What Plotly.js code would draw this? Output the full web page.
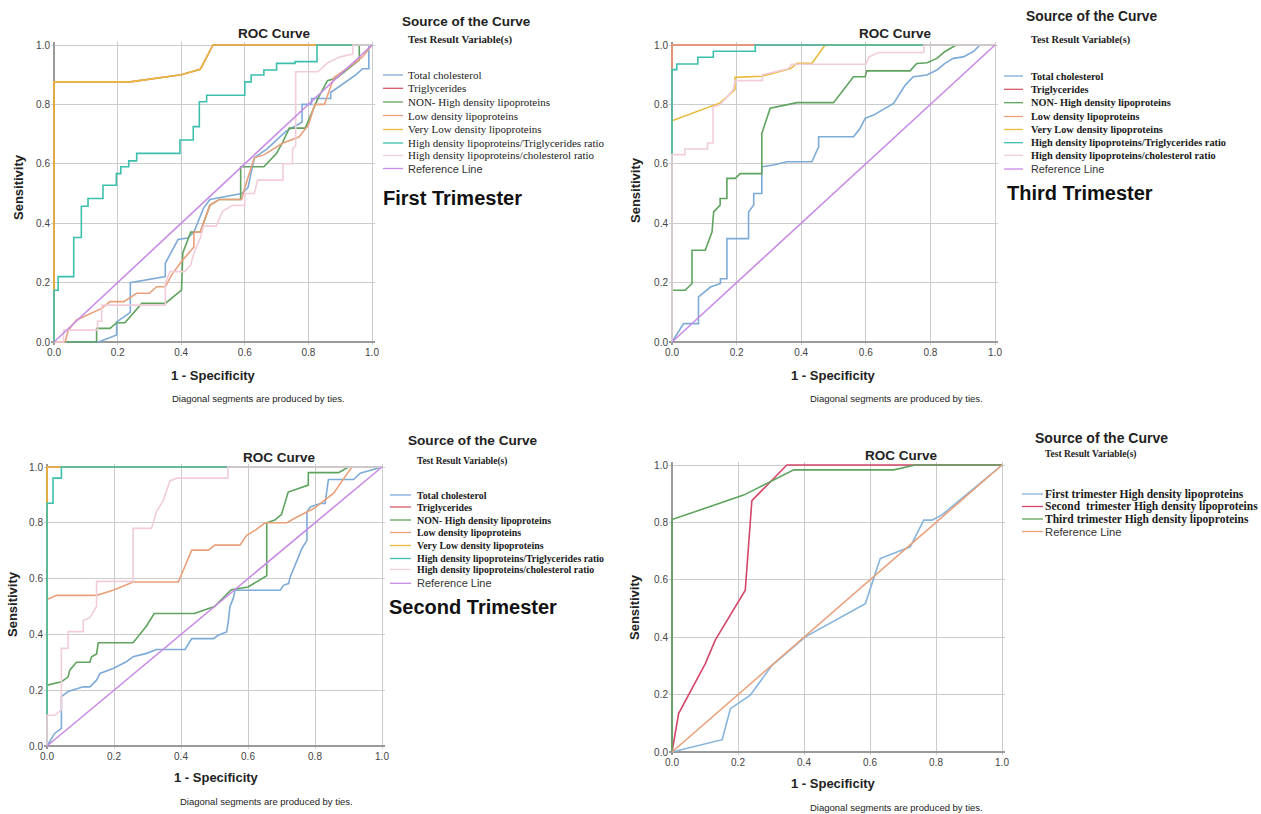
<!DOCTYPE html>
<html><head><meta charset="utf-8">
<script src="https://cdn.plot.ly/plotly-3.0.1.min.js"></script>
<style>html,body{margin:0;padding:0;background:#fff}#chart{width:1261px;height:814px}</style>
</head><body><div id="chart"></div>
<script>
// ---------- labels ----------
const namesMain = ["Total cholesterol","Triglycerides","NON- High density lipoproteins","Low density lipoproteins","Very Low density lipoproteins","High density lipoproteins/Triglycerides ratio","High density lipoproteins/cholesterol ratio","Reference Line"];
const namesHDL = ["First trimester High density lipoproteins","Second\u00a0 trimester High density lipoproteins","Third trimester High density lipoproteins","Reference Line"];
const tickVals = [0,0.2,0.4,0.6,0.8,1.0];
const tickText = ["0.0","0.2","0.4","0.6","0.8","1.0"];
const panelLabels = ["First Trimester","Third Trimester","Second Trimester"];

// ---------- First trimester (1 - specificity, sensitivity) ----------
const t1_totalChol = [[0,0],[0.14,0],[0.197,0.024],[0.197,0.068],[0.24,0.1],[0.24,0.2],[0.35,0.22],[0.35,0.265],[0.39,0.345],[0.42,0.35],[0.44,0.37],[0.47,0.45],[0.49,0.48],[0.59,0.5],[0.61,0.52],[0.63,0.62],[0.67,0.65],[0.73,0.71],[0.78,0.74],[0.78,0.8],[0.81,0.8],[0.81,0.82],[0.87,0.82],[0.87,0.84],[0.95,0.9],[0.97,0.92],[0.99,0.92],[0.99,1],[1,1]];
const t1_trig = [[0,0],[0,0.876],[0.24,0.876],[0.4,0.9],[0.46,0.918],[0.5,1],[1,1]];
const t1_nonHDL = [[0,0],[0.134,0],[0.134,0.046],[0.176,0.046],[0.197,0.065],[0.223,0.065],[0.276,0.13],[0.35,0.13],[0.401,0.175],[0.405,0.3],[0.43,0.37],[0.46,0.37],[0.49,0.46],[0.52,0.48],[0.587,0.48],[0.587,0.59],[0.66,0.59],[0.7,0.635],[0.72,0.675],[0.74,0.72],[0.79,0.72],[0.83,0.82],[0.86,0.88],[0.89,0.89],[0.96,0.95],[0.96,1],[1,1]];
const t1_LDL = [[0,0],[0.035,0],[0.045,0.04],[0.071,0.074],[0.15,0.113],[0.176,0.136],[0.22,0.136],[0.26,0.164],[0.3,0.164],[0.323,0.186],[0.35,0.186],[0.37,0.226],[0.4,0.27],[0.44,0.32],[0.44,0.37],[0.46,0.37],[0.49,0.46],[0.52,0.48],[0.59,0.48],[0.6,0.52],[0.63,0.62],[0.66,0.63],[0.72,0.67],[0.77,0.69],[0.8,0.73],[0.82,0.8],[0.85,0.8],[0.88,0.89],[0.92,0.92],[0.97,0.96],[1,1]];
const t1_VLDL = [[0,0],[0,0.876],[0.24,0.876],[0.4,0.9],[0.46,0.918],[0.5,1],[1,1]];
const t1_hdlTg = [[0,0],[0,0.174],[0.013,0.174],[0.013,0.22],[0.062,0.22],[0.062,0.352],[0.086,0.352],[0.086,0.457],[0.107,0.457],[0.107,0.483],[0.154,0.483],[0.154,0.528],[0.196,0.528],[0.196,0.567],[0.21,0.567],[0.21,0.59],[0.235,0.59],[0.235,0.61],[0.26,0.61],[0.26,0.635],[0.396,0.635],[0.396,0.68],[0.438,0.68],[0.438,0.725],[0.457,0.725],[0.457,0.809],[0.48,0.809],[0.48,0.831],[0.6,0.831],[0.6,0.876],[0.62,0.876],[0.62,0.899],[0.66,0.899],[0.66,0.916],[0.7,0.916],[0.7,0.938],[0.758,0.938],[0.758,0.944],[0.827,0.944],[0.827,1],[1,1]];
const t1_hdlChol = [[0,0],[0.03,0],[0.03,0.04],[0.137,0.04],[0.137,0.07],[0.15,0.07],[0.15,0.124],[0.35,0.124],[0.35,0.2],[0.365,0.237],[0.41,0.237],[0.43,0.26],[0.44,0.3],[0.46,0.35],[0.47,0.39],[0.51,0.39],[0.53,0.44],[0.56,0.46],[0.6,0.46],[0.6,0.5],[0.63,0.5],[0.64,0.545],[0.72,0.545],[0.72,0.6],[0.75,0.6],[0.75,0.65],[0.76,0.66],[0.76,0.91],[0.83,0.91],[0.86,0.94],[0.9,0.96],[0.94,0.97],[0.94,1],[1,1]];

// ---------- Third trimester ----------
const t3_totalChol = [[0,0],[0.036,0.062],[0.082,0.062],[0.082,0.152],[0.119,0.185],[0.15,0.197],[0.15,0.213],[0.17,0.213],[0.17,0.348],[0.237,0.348],[0.237,0.438],[0.253,0.461],[0.253,0.5],[0.278,0.5],[0.278,0.59],[0.314,0.596],[0.356,0.607],[0.433,0.607],[0.454,0.657],[0.454,0.691],[0.562,0.691],[0.582,0.719],[0.598,0.753],[0.624,0.764],[0.686,0.803],[0.722,0.865],[0.747,0.893],[0.789,0.899],[0.82,0.916],[0.845,0.938],[0.871,0.955],[0.902,0.96],[0.933,0.978],[0.954,1],[1,1]];
const t3_trig = [[0,0],[0,1],[1,1]];
const t3_nonHDL = [[0,0],[0,0.174],[0.041,0.174],[0.062,0.197],[0.062,0.309],[0.103,0.309],[0.124,0.371],[0.129,0.438],[0.149,0.461],[0.149,0.483],[0.17,0.483],[0.17,0.551],[0.196,0.551],[0.211,0.567],[0.278,0.567],[0.278,0.702],[0.304,0.787],[0.387,0.806],[0.5,0.806],[0.562,0.893],[0.598,0.893],[0.603,0.913],[0.737,0.913],[0.758,0.938],[0.79,0.94],[0.82,0.955],[0.845,0.978],[0.88,1],[1,1]];
const t3_LDL = [[0,0],[0,1],[1,1]];
const t3_VLDL = [[0,0],[0,0.745],[0.149,0.805],[0.195,0.85],[0.195,0.891],[0.278,0.895],[0.334,0.911],[0.366,0.92],[0.387,0.938],[0.433,0.938],[0.474,1],[1,1]];
const t3_hdlTg = [[0,0],[0,0.917],[0.015,0.917],[0.015,0.936],[0.08,0.936],[0.08,0.959],[0.128,0.959],[0.128,0.979],[0.258,0.979],[0.258,1],[1,1]];
const t3_hdlChol = [[0,0],[0,0.631],[0.04,0.631],[0.04,0.65],[0.11,0.65],[0.11,0.67],[0.127,0.67],[0.127,0.79],[0.15,0.8],[0.19,0.85],[0.195,0.88],[0.28,0.88],[0.28,0.9],[0.36,0.92],[0.37,0.935],[0.6,0.935],[0.61,0.96],[0.64,0.975],[0.78,0.975],[0.78,1],[1,1]];

// ---------- Second trimester ----------
const t2_totalChol = [[0,0],[0.023,0.045],[0.043,0.063],[0.043,0.177],[0.063,0.195],[0.088,0.206],[0.108,0.212],[0.128,0.212],[0.148,0.236],[0.158,0.26],[0.197,0.278],[0.237,0.302],[0.257,0.32],[0.297,0.332],[0.327,0.346],[0.412,0.346],[0.432,0.385],[0.497,0.385],[0.511,0.397],[0.536,0.409],[0.541,0.445],[0.546,0.499],[0.556,0.529],[0.561,0.558],[0.696,0.558],[0.706,0.576],[0.721,0.582],[0.726,0.606],[0.761,0.708],[0.776,0.737],[0.776,0.839],[0.786,0.857],[0.816,0.869],[0.83,0.869],[0.84,0.955],[0.915,0.955],[0.935,0.978],[1,1]];
const t2_trig = [[0,0],[0,1],[1,1]];
const t2_nonHDL = [[0,0],[0,0.218],[0.043,0.23],[0.063,0.248],[0.068,0.272],[0.088,0.3],[0.128,0.3],[0.133,0.32],[0.148,0.33],[0.153,0.37],[0.257,0.37],[0.297,0.43],[0.32,0.475],[0.44,0.475],[0.5,0.5],[0.55,0.56],[0.6,0.57],[0.656,0.61],[0.656,0.8],[0.68,0.81],[0.7,0.83],[0.72,0.91],[0.78,0.935],[0.78,0.98],[0.87,0.98],[0.9,1],[1,1]];
const t2_LDL = [[0,0],[0,0.525],[0.028,0.54],[0.148,0.54],[0.197,0.558],[0.257,0.588],[0.392,0.588],[0.432,0.702],[0.482,0.702],[0.501,0.72],[0.576,0.72],[0.596,0.755],[0.621,0.773],[0.651,0.8],[0.716,0.8],[0.746,0.821],[0.796,0.851],[0.855,0.905],[0.91,1],[1,1]];
const t2_VLDL = [[0,0],[0,1],[1,1]];
const t2_hdlTg = [[0,0],[0,0.87],[0.018,0.87],[0.018,0.96],[0.043,0.96],[0.043,1],[1,1]];
const t2_hdlChol = [[0,0],[0,0.11],[0.023,0.11],[0.043,0.13],[0.043,0.35],[0.063,0.35],[0.063,0.41],[0.108,0.41],[0.108,0.45],[0.128,0.46],[0.148,0.5],[0.148,0.59],[0.257,0.59],[0.257,0.78],[0.312,0.78],[0.327,0.84],[0.347,0.88],[0.367,0.95],[0.387,0.96],[0.54,0.96],[0.54,1],[1,1]];

// ---------- HDL by trimester ----------
const hdl_first = [[0,0],[0.152,0.043],[0.177,0.151],[0.237,0.198],[0.303,0.302],[0.404,0.401],[0.586,0.517],[0.631,0.674],[0.722,0.715],[0.763,0.808],[0.788,0.808],[0.818,0.826],[1,1]];
const hdl_second = [[0,0],[0.02,0.134],[0.101,0.308],[0.131,0.39],[0.222,0.564],[0.242,0.876],[0.348,1],[1,1]];
const hdl_third = [[0,0],[0,0.81],[0.217,0.895],[0.369,0.983],[0.672,0.983],[0.737,1],[1,1]];

const refLine = [[0,0],[1,1]];

// ---------- styling ----------
const colorsMain = ['#7eaad8','#d65a6a','#5fa35f','#e9a07a','#e8bb3c','#3dbfae','#f2cdd9','#c88ce6'];
const colorsHDL = ['#86b4dc','#d4466a','#5fa35f','#e9a07a'];
const W = 1261, H = 814;
const px = v => v / W;
const py = v => 1 - v / H;

// panel pixel boxes: [x0, x1, yTop, yBottom]
const boxes = [[54,372,45,342],[672,995,45,342],[47,382,467,746],[672,1002,465,752]];
const panelSeries = [
  [t1_totalChol,t1_trig,t1_nonHDL,t1_LDL,t1_VLDL,t1_hdlTg,t1_hdlChol,refLine],
  [t3_totalChol,t3_trig,t3_nonHDL,t3_LDL,t3_VLDL,t3_hdlTg,t3_hdlChol,refLine],
  [t2_totalChol,t2_trig,t2_nonHDL,t2_LDL,t2_VLDL,t2_hdlTg,t2_hdlChol,refLine],
  [hdl_first,hdl_second,hdl_third,refLine]
];

const data = [];
panelSeries.forEach((list, p) => {
  const cols = p === 3 ? colorsHDL : colorsMain;
  const nms = p === 3 ? namesHDL : namesMain;
  list.forEach((pts, i) => {
    data.push({
      type: 'scatter', mode: 'lines',
      x: pts.map(d => d[0]), y: pts.map(d => d[1]),
      name: nms[i], showlegend: false, hoverinfo: 'skip',
      line: {color: cols[i], width: 1.6},
      xaxis: p === 0 ? 'x' : 'x' + (p + 1), yaxis: p === 0 ? 'y' : 'y' + (p + 1)
    });
  });
});

const layout = {
  width: W, height: H, margin: {l:0,r:0,t:0,b:0},
  paper_bgcolor: '#ffffff', plot_bgcolor: '#ffffff', showlegend: false,
  font: {family: 'Liberation Sans, Arial, sans-serif', color: '#222'},
  annotations: [], shapes: []
};
const PAD = 3; // pixels of breathing room so edge lines are not clipped
boxes.forEach((b, p) => {
  const suf = p === 0 ? '' : String(p + 1);
  const uw = b[1] - b[0], uh = b[3] - b[2];
  const common = {
    tickvals: tickVals, ticktext: tickText, showgrid: true, gridcolor: '#cbcbcb', gridwidth: 1,
    zeroline: true, zerolinecolor: '#9a9a9a', zerolinewidth: 1.3, showline: false, ticks: '',
    layer: 'below traces',
    tickfont: {size: 10, color: '#444', family: 'Liberation Sans, Arial'}, fixedrange: true
  };
  layout['xaxis' + suf] = Object.assign({}, common, {range: [-PAD/uw, 1 + PAD/uw], domain: [px(b[0]-PAD), px(b[1]+PAD)], anchor: 'y' + suf});
  layout['yaxis' + suf] = Object.assign({}, common, {range: [-PAD/uh, 1 + PAD/uh], domain: [py(b[3]+PAD), py(b[2]-PAD)], anchor: 'x' + suf});
});

function A(text, x, y, size, o) {
  o = o || {};
  layout.annotations.push(Object.assign({
    text: text, x: px(x), y: py(y), xref: 'paper', yref: 'paper', showarrow: false,
    xanchor: 'left', yanchor: 'middle',
    font: {size: size, family: 'Liberation Sans, Arial', color: '#222'}
  }, o));
}
const bold = t => '<b>' + t + '</b>';

// ROC Curve titles
[[274,33],[895,34],[279,457],[901,455]].forEach(c => A(bold('ROC Curve'), c[0], c[1], 13.5, {xanchor:'center'}));
// Sensitivity
[[18,187],[635,190],[12,604],[634,607]].forEach(c => A(bold('Sensitivity'), c[0], c[1], 13, {xanchor:'center', textangle:-90}));
// 1 - Specificity
[[213,375],[833,375],[216,777],[833,783]].forEach(c => A(bold('1 - Specificity'), c[0], c[1], 13, {xanchor:'center'}));
// footnote
[[258,398],[896,398],[266,801],[896,807]].forEach(c => A('Diagonal segments are produced by ties.', c[0], c[1], 9.5, {xanchor:'center'}));

// legends
const legends = [
  {title:[400,22,13.5], sub:[406,39,10.8], line:[383,403], textX:406, ys:[75,88.3,102,115.5,129.5,143,155.5,168.5], size:11, b:false, ref:11, names:namesMain, cols:colorsMain, label:[381,198]},
  {title:[1024,16,13.8], sub:[1029,40,10.3], line:[1004,1023], textX:1029, ys:[76,89.3,102.7,116.5,129.5,142.7,155.3,169], size:10.3, b:true, ref:10.8, names:namesMain, cols:colorsMain, label:[1005,193]},
  {title:[406,440,13.6], sub:[415,461,9.4], line:[390,411], textX:415, ys:[495,507,520,532.5,545.5,558.5,569.5,583.3], size:9.9, b:true, ref:11, names:namesMain, cols:colorsMain, label:[387,607]},
  {title:[1033,437.7,14], sub:[1043,454.5,9.5], line:[1022,1043], textX:1043, ys:[494,506.5,519,531.5], size:11.5, b:true, ref:11.3, names:namesHDL, cols:colorsHDL, label:null}
];
legends.forEach((L, p) => {
  A(bold('Source of the Curve'), L.title[0], L.title[1], L.title[2]);
  A(bold('Test Result Variable(s)'), L.sub[0], L.sub[1], L.sub[2], {font:{size:L.sub[2], family:'Liberation Serif, Times New Roman', color:'#222'}});
  L.names.forEach((n, i) => {
    const isRef = i === L.names.length - 1;
    layout.shapes.push({type:'line', xref:'paper', yref:'paper', x0:px(L.line[0]), x1:px(L.line[1]), y0:py(L.ys[i]), y1:py(L.ys[i]), line:{color:L.cols[i], width:1.3}});
    if (isRef) {
      A(n, L.textX, L.ys[i], L.ref, {font:{size:L.ref, family:'Liberation Sans, Arial', color:'#333'}});
    } else {
      A(L.b ? bold(n) : n, L.textX, L.ys[i], L.size, {font:{size:L.size, family:'Liberation Serif, Times New Roman', color:'#1a1a1a'}});
    }
  });
  if (L.label) A(bold(panelLabels[p]), L.label[0], L.label[1], 20, {font:{size:20, family:'Liberation Sans, Arial', color:'#111'}});
});

Plotly.newPlot('chart', data, layout, {staticPlot: true, displayModeBar: false});
</script>
</body></html>
